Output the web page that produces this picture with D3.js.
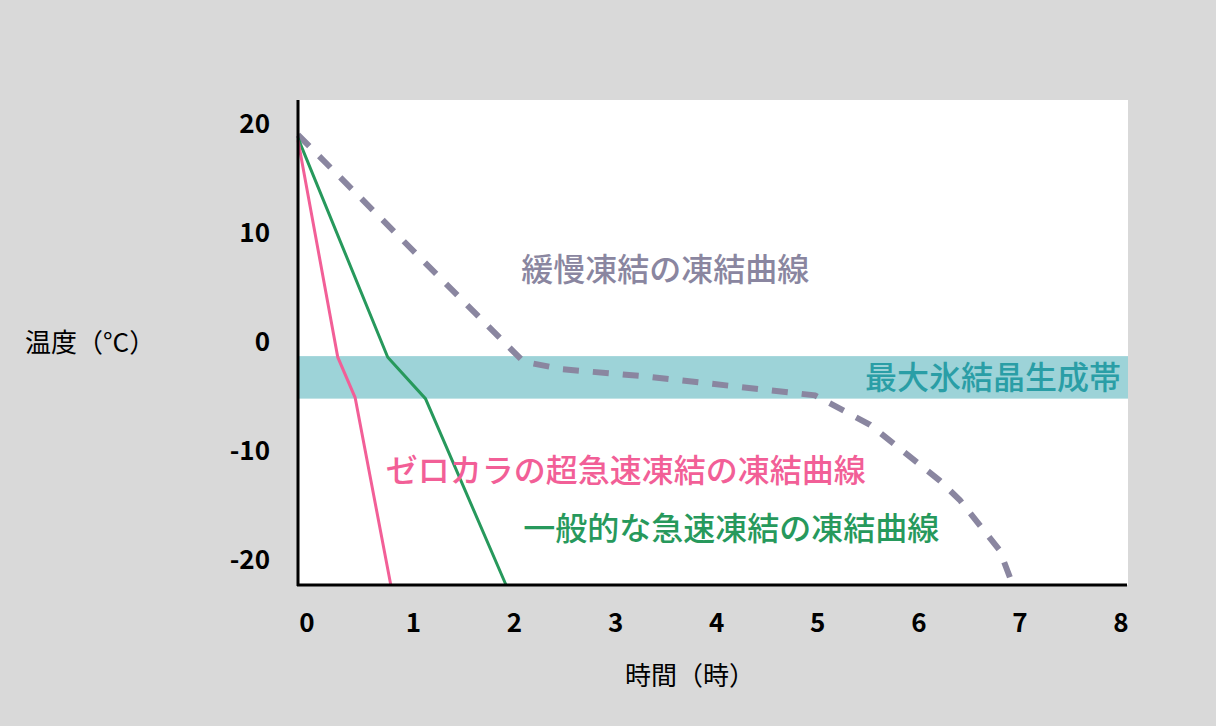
<!DOCTYPE html><html><head><meta charset="utf-8">
<script src="https://cdn.jsdelivr.net/npm/d3@7"></script>
<style>body{margin:0;background:#d9d9d9}text{font-family:"Noto Sans CJK JP","Noto Sans",sans-serif}</style></head><body>
<svg id="c" width="1216" height="726"></svg>
<script>
const xTicks=[0,1,2,3,4,5,6,7,8];
const yTicks=[20,10,0,-10,-20];
const band=[-1.3,-5.2];
const pinkX=[-0.09,0.30,0.47,0.82], pinkY=[18.5,-1.4,-5.1,-22.3];
const greenX=[-0.09,0.79,1.16,1.95], greenY=[18.7,-1.4,-5.2,-22.3];
const slowX=[-0.09,2.12,2.5,3.36,4.98,5.52,6.2,6.4,6.79,6.92], slowY=[19.0,-1.8,-2.5,-3.2,-4.9,-7.6,-12.7,-14.5,-19.1,-22.3];
const labels=[
 {t:"緩慢凍結の凍結曲線",x:2.1,y:6.6,c:"#8a86a0",a:"start"},
 {t:"最大氷結晶生成帯",x:7.98,y:-3.3,c:"#2a9ea6",a:"end"},
 {t:"ゼロカラの超急速凍結の凍結曲線",x:0.77,y:-11.8,c:"#f25f97",a:"start"},
 {t:"一般的な急速凍結の凍結曲線",x:2.12,y:-17.2,c:"#27995c",a:"start"}];
const svg=d3.select("#c");
const x=d3.scaleLinear().domain([-0.09,8.02]).range([298,1125]);
const y=d3.scaleLinear().domain([-22.3,22.2]).range([585,100]);
svg.append("rect").attr("x",298).attr("y",100).attr("width",830).attr("height",485).attr("fill","#fff");
svg.append("rect").attr("x",298).attr("y",y(band[0])).attr("width",830).attr("height",y(band[1])-y(band[0])).attr("fill","#9dd3d8");
const line=(xs,ys)=>d3.line().x((d,i)=>x(xs[i])).y(d=>y(d))(ys);
svg.append("path").attr("d",line(slowX,slowY)).attr("fill","none").attr("stroke","#8a86a0").attr("stroke-width",6).attr("stroke-dasharray","16,14");
svg.append("path").attr("d",line(greenX,greenY)).attr("fill","none").attr("stroke","#27995c").attr("stroke-width",3);
svg.append("path").attr("d",line(pinkX,pinkY)).attr("fill","none").attr("stroke","#f25f97").attr("stroke-width",3);
svg.append("line").attr("x1",298).attr("x2",298).attr("y1",100).attr("y2",586).attr("stroke","#000").attr("stroke-width",3);
svg.append("line").attr("x1",297).attr("x2",1127).attr("y1",585).attr("y2",585).attr("stroke","#000").attr("stroke-width",3);
svg.selectAll(".yt").data(yTicks).join("text").attr("x",270).attr("y",d=>y(d)+9).attr("text-anchor","end").attr("font-size",26).attr("font-weight","bold").text(d=>d);
svg.selectAll(".xt").data(xTicks).join("text").attr("x",d=>d===0?307:x(d)+(8-d)*0.9-2).attr("y",632).attr("text-anchor","middle").attr("font-size",26).attr("font-weight","bold").text(d=>d);
svg.append("text").attr("x",25).attr("y",352).attr("font-size",26).text("温度（°C）");
svg.append("text").attr("x",625).attr("y",685).attr("font-size",26).text("時間（時）");
svg.selectAll(".lb").data(labels).join("text").attr("x",d=>x(d.x)).attr("y",d=>y(d.y)+11).attr("text-anchor",d=>d.a).attr("fill",d=>d.c).attr("font-size",32).attr("font-weight",500).text(d=>d.t);
</script></body></html>
